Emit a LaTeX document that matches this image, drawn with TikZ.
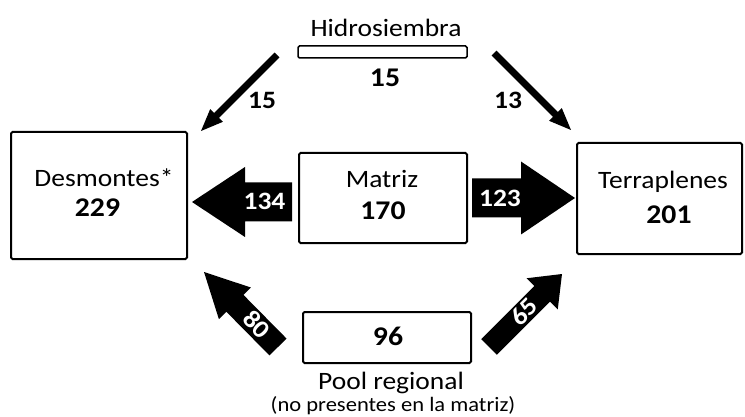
\documentclass[tikz,border=0pt]{standalone}
\usepackage{fontspec}
\setmainfont[FakeStretch=1.1]{Carlito}
\usetikzlibrary{calc}
\tikzset{
  box/.style={draw=black, line width=2pt, rounded corners=1.5pt, fill=white, inner sep=0},
  lbl/.style={font=\fontsize{25}{30}\selectfont, inner sep=0, anchor=base},
  small/.style={font=\fontsize{20.5}{24}\selectfont, inner sep=0, anchor=base},
  num/.style={font=\fontsize{27}{32}\selectfont\bfseries, inner sep=0, anchor=base},
  alab/.style={font=\fontsize{25}{30}\selectfont\bfseries, inner sep=0},
  wlab/.style={font=\fontsize{25}{30}\selectfont\bfseries, inner sep=0, text=white},
}
% block arrow: #1 tail, #2 tip, #3 shaft half width, #4 head half width, #5 head length
\newcommand\blockarrow[5]{%
  \coordinate (hb) at ($(#2)!#5!(#1)$);
  \fill[black] ($(#1)!#3!90:(#2)$) -- ($(hb)!#3!90:(#2)$) -- ($(hb)!#4!90:(#2)$) -- (#2)
    -- ($(hb)!#4!-90:(#2)$) -- ($(hb)!#3!-90:(#2)$) -- ($(#1)!#3!-90:(#2)$) -- cycle;
}
\begin{document}
\begin{tikzpicture}[x=1pt,y=-1pt]
\useasboundingbox (0,0) rectangle (745,417);

% boxes
\node[box, line width=1.5pt, minimum width=169pt, minimum height=12pt] (hidro) at (382.5,52) {};
\node[box, minimum width=176pt, minimum height=127pt] (desm) at (99,195.5) {};
\node[box, minimum width=168pt, minimum height=90pt] (matriz) at (383,198) {};
\node[box, minimum width=165pt, minimum height=111pt] (terra) at (659.5,198.5) {};
\node[box, minimum width=168pt, minimum height=51pt] (pool) at (387,337.5) {};

% texts
\node[lbl] (hidrot) at (386,36.5) {Hidrosiembra};
\node[num] (hidron) at (385,86.5) {15};
\node[lbl] (desmt) at (104,187) {Desmontes*};
\node[num] (desmn) at (97.5,217) {229};
\node[lbl] (matrizt) at (382,188) {Matriz};
\node[num] (matrizn) at (383,219) {170};
\node[lbl] (terrat) at (663,189) {Terraplenes};
\node[num] (terran) at (669,223) {201};
\node[num] (pooln) at (388,345) {96};
\node[lbl] (poolt) at (391,389) {Pool regional};
\node[small] (poolsub) at (393,411) {(no presentes en la matriz)};

% arrow end points
\coordinate (a1t) at (292,202);  \coordinate (a1h) at (192,202);
\coordinate (a2t) at (472,198);  \coordinate (a2h) at (575,198);
\coordinate (a3t) at (277,55);   \coordinate (a3h) at (201,131);
\coordinate (a4t) at (494,53);   \coordinate (a4h) at (571,130);
\coordinate (a5t) at (278,347);  \coordinate (a5h) at (204,272);
\coordinate (a6t) at (489,347);  \coordinate (a6h) at (562,274);

\blockarrow{a1t}{a1h}{19.5pt}{35pt}{53pt}
\blockarrow{a2t}{a2h}{19.5pt}{36.5pt}{54pt}
\blockarrow{a3t}{a3h}{3.5pt}{9pt}{22pt}
\blockarrow{a4t}{a4h}{3.5pt}{9pt}{22pt}
\blockarrow{a5t}{a5h}{12pt}{22.5pt}{44pt}
\blockarrow{a6t}{a6h}{11pt}{22pt}{28pt}

% arrow labels
\node[alab] (l15) at (262,100) {15};
\node[alab] (l13) at (508,100) {13};
\node[wlab] (l134) at (264.5,201) {134};
\node[wlab] (l123) at (500,198.5) {123};
\node[wlab, rotate=-45] (l80) at (257,324) {80};
\node[wlab, rotate=45] (l65) at (524,312) {65};
\end{tikzpicture}
\end{document}
